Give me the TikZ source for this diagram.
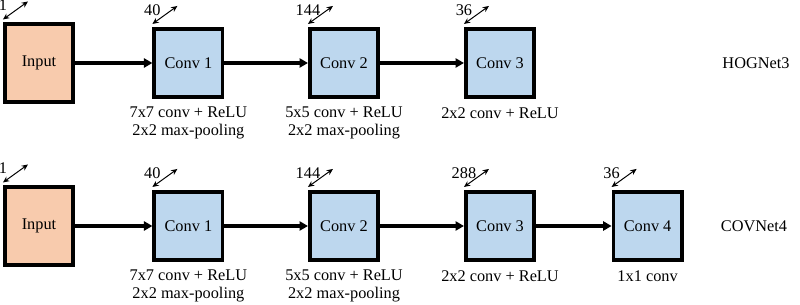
\documentclass[tikz,border=0pt]{standalone}
\usepackage{fontspec}
\setmainfont{Liberation Serif}
\usepackage{tikz}
\usetikzlibrary{positioning}
\usetikzlibrary{arrows.meta}

\definecolor{inputfill}{HTML}{F8CBAD}
\definecolor{convfill}{HTML}{BDD7EE}

\begin{document}
\begin{tikzpicture}[
  every node/.style={font=\fontsize{11.6}{12.8}\selectfont},
  box/.style={draw,line width=2.6pt,minimum width=1.71cm,minimum height=1.71cm,inner sep=0pt},
  inbox/.style={box,fill=inputfill,minimum height=1.935cm},
  convbox/.style={box,fill=convfill},
  flow/.style={line width=2.4pt,-{Triangle[length=6pt,width=6.5pt]}},
  dims/.style={line width=0.7pt,{Stealth[length=4.5pt,width=4pt]}-{Stealth[length=4.5pt,width=4pt]}},
  num/.style={yshift=0.35cm,inner sep=0pt},
  op/.style={below=0.2cm,inner sep=0pt,align=center}]
\useasboundingbox (0,0) rectangle (20,7.625);

% HOGNet3
\path
(0.975,6.05) node[inbox](in1){Input}
(4.71,6.05) node[convbox](c11){Conv 1}
(8.6,6.05) node[convbox](c12){Conv 2}
(12.5,6.05) node[convbox](c13){Conv 3}
(18.9,6.05) node(net1){HOGNet3};
\draw[flow] (in1) -- (c11);
\draw[flow] (c11) -- (c12);
\draw[flow] (c12) -- (c13);
\node[op] at (c11.south) {7x7 conv + ReLU\\2x2 max-pooling};
\node[op] at (c12.south) {5x5 conv + ReLU\\2x2 max-pooling};
\node[op] at (c13.south) {2x2 conv + ReLU};
\draw[dims] ([yshift=0.075cm]in1.north west) node[num]{1} -- ++(0.625,0.45);
\draw[dims] ([yshift=0.075cm]c11.north west) node[num]{40} -- ++(0.625,0.45);
\draw[dims] ([yshift=0.075cm]c12.north west) node[num]{144} -- ++(0.625,0.45);
\draw[dims] ([yshift=0.075cm]c13.north west) node[num]{36} -- ++(0.625,0.45);

% COVNet4
\path
(0.975,1.975) node[inbox](in2){Input}
(4.71,1.975) node[convbox](c21){Conv 1}
(8.6,1.975) node[convbox](c22){Conv 2}
(12.5,1.975) node[convbox](c23){Conv 3}
(16.19,1.975) node[convbox](c24){Conv 4}
(18.85,1.975) node(net2){COVNet4};
\draw[flow] (in2) -- (c21);
\draw[flow] (c21) -- (c22);
\draw[flow] (c22) -- (c23);
\draw[flow] (c23) -- (c24);
\node[op] at (c21.south) {7x7 conv + ReLU\\2x2 max-pooling};
\node[op] at (c22.south) {5x5 conv + ReLU\\2x2 max-pooling};
\node[op] at (c23.south) {2x2 conv + ReLU};
\node[op] at (c24.south) {1x1 conv};
\draw[dims] ([yshift=0.075cm]in2.north west) node[num]{1} -- ++(0.625,0.45);
\draw[dims] ([yshift=0.075cm]c21.north west) node[num]{40} -- ++(0.625,0.45);
\draw[dims] ([yshift=0.075cm]c22.north west) node[num]{144} -- ++(0.625,0.45);
\draw[dims] ([yshift=0.075cm]c23.north west) node[num]{288} -- ++(0.625,0.45);
\draw[dims] ([yshift=0.075cm]c24.north west) node[num]{36} -- ++(0.625,0.45);
\end{tikzpicture}
\end{document}
